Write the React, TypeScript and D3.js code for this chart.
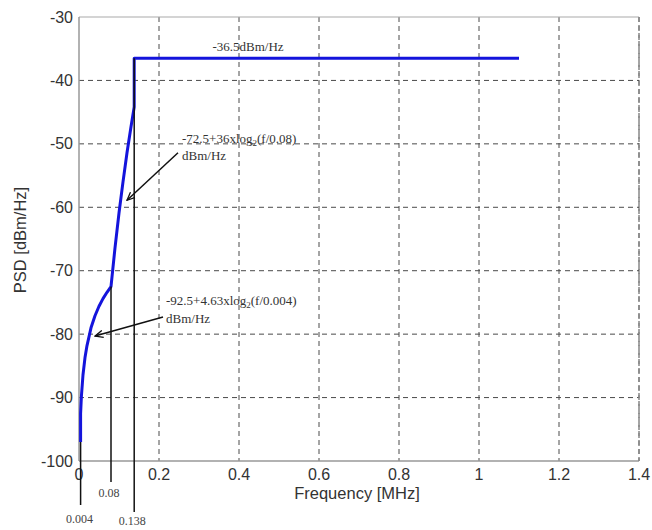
import React from "react";
import * as d3 from "d3";

const xTicks = [0, 0.2, 0.4, 0.6, 0.8, 1, 1.2, 1.4];
const yTicks = [-100, -90, -80, -70, -60, -50, -40, -30];

// PSD mask, frequency (MHz) vs PSD (dBm/Hz)
const freq = [0.004, 0.004, 0.006, 0.01, 0.015, 0.02, 0.03, 0.04, 0.05, 0.06, 0.07, 0.08, 0.09, 0.1, 0.11, 0.12, 0.13, 0.138, 0.138, 1.1];
const psd = [-97, -92.5, -89.8, -86.4, -83.7, -81.8, -79.0, -77.1, -75.6, -74.4, -73.4, -72.5, -66.4, -60.9, -56.0, -51.4, -47.3, -44.2, -36.5, -36.5];

const markerFreqs = [0.004, 0.08, 0.138];
const markerTops = [-97, -72.5, -36.5];
const markerLabels = ["0.004", "0.08", "0.138"];

const W = 652, H = 530;
const M = { left: 79, right: 639, top: 17, bottom: 461 };

export default function App() {
  const x = d3.scaleLinear().domain([0, 1.4]).range([M.left, M.right]);
  const y = d3.scaleLinear().domain([-100, -30]).range([M.bottom, M.top]);
  const line = d3.line<number>().x((_, i) => x(freq[i])).y((d) => y(d));
  const pts = psd;
  const grid = "#4a4a4a";
  const serif = "'Liberation Serif', 'Times New Roman', serif";
  const sans = "'Liberation Sans', Arial, sans-serif";
  const markerBottoms = [505, 482, 512];
  const labelY = [523, 497, 525];

  return (
    <svg width={W} height={H} style={{ position: "absolute", left: 0, top: 0, background: "#fff" }}>
      <defs>
        <marker id="arr" viewBox="0 0 10 10" refX="9" refY="5" markerWidth="9" markerHeight="9" orient="auto-start-reverse" markerUnits="userSpaceOnUse">
          <path d="M0,1 L9,5 L0,9" fill="none" stroke="#111" strokeWidth="1.4" />
        </marker>
      </defs>
      {/* grid */}
      {xTicks.slice(1).map((t) => (
        <line key={"gx" + t} x1={x(t)} x2={x(t)} y1={M.top} y2={M.bottom} stroke={grid} strokeWidth={1} strokeDasharray="5,4" />
      ))}
      {yTicks.slice(1, -1).map((t) => (
        <line key={"gy" + t} x1={M.left} x2={M.right} y1={y(t)} y2={y(t)} stroke={grid} strokeWidth={1} strokeDasharray="5,4" />
      ))}
      {/* frame */}
      <line x1={M.left} x2={M.right} y1={M.top} y2={M.top} stroke="#aaa" strokeWidth={1.2} />
      <line x1={M.left} x2={M.left} y1={M.top} y2={M.bottom} stroke="#999" strokeWidth={1.5} />
      <line x1={M.left} x2={M.right} y1={M.bottom} y2={M.bottom} stroke="#999" strokeWidth={1.5} />
      <line x1={M.right} x2={M.right} y1={M.top} y2={M.bottom} stroke="#888" strokeWidth={1.5} strokeDasharray="5,3" />

      {/* tick labels */}
      {xTicks.map((t) => (
        <text key={"tx" + t} x={x(t)} y={480} textAnchor="middle" fontFamily={sans} fontSize={16} fill="#333">{String(t)}</text>
      ))}
      {yTicks.map((t) => (
        <text key={"ty" + t} x={73} y={y(t)} dy="0.35em" textAnchor="end" fontFamily={sans} fontSize={16} fill="#333">{String(t)}</text>
      ))}
      <text x={357} y={499} textAnchor="middle" fontFamily={sans} fontSize={16.5} fill="#333">Frequency [MHz]</text>
      <text transform={`translate(26,${240}) rotate(-90)`} textAnchor="middle" fontFamily={sans} fontSize={16.5} fill="#333">PSD [dBm/Hz]</text>

      {/* PSD curve */}
      <path d={line(pts) || ""} fill="none" stroke="#1414dc" strokeWidth={3} strokeLinejoin="round" />

      {/* marker lines */}
      {markerFreqs.map((f, i) => (
        <g key={"m" + i}>
          <line x1={x(f)} x2={x(f)} y1={y(markerTops[i])} y2={markerBottoms[i]} stroke="#111" strokeWidth={1.5} />
          <text x={x(f) - (i === 0 ? 1 : 2)} y={labelY[i]} textAnchor="middle" fontFamily={serif} fontSize={12} fill="#444">{markerLabels[i]}</text>
        </g>
      ))}

      {/* annotations */}
      <text x={x(0.4225)} y={y(-35.4)} textAnchor="middle" fontFamily={serif} fontSize={13} fill="#333">-36.5dBm/Hz</text>

      <text x={x(0.2575)} y={y(-49.9)} fontFamily={serif} fontSize={13} fill="#333">
        -72.5+36xlog<tspan fontSize={9} dy="3">2</tspan><tspan dy="-3">(f/0.08)</tspan>
      </text>
      <text x={x(0.2575)} y={y(-52.5)} fontFamily={serif} fontSize={13} fill="#333">dBm/Hz</text>
      <line x1={x(0.2475)} y1={y(-51.4)} x2={x(0.12)} y2={y(-58.9)} stroke="#111" strokeWidth={1.5} markerEnd="url(#arr)" />

      <text x={x(0.2175)} y={y(-75.4)} fontFamily={serif} fontSize={13} fill="#333">
        -92.5+4.63xlog<tspan fontSize={9} dy="3">2</tspan><tspan dy="-3">(f/0.004)</tspan>
      </text>
      <text x={x(0.2175)} y={y(-78.2)} fontFamily={serif} fontSize={13} fill="#333">dBm/Hz</text>
      <line x1={x(0.21)} y1={y(-77.3)} x2={x(0.04)} y2={y(-80.3)} stroke="#111" strokeWidth={1.5} markerEnd="url(#arr)" />
    </svg>
  );
}
